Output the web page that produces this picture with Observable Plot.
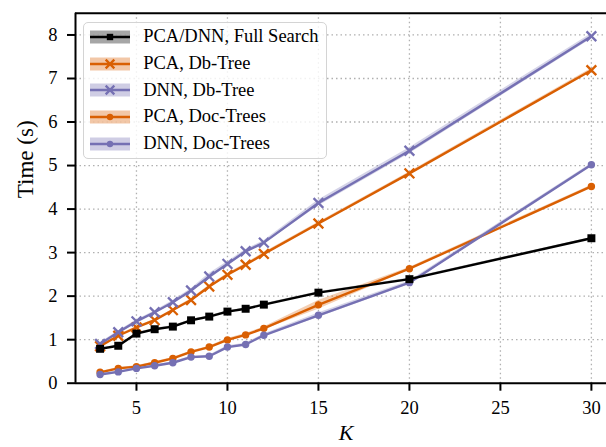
<!DOCTYPE html>
<html>
<head>
<meta charset="utf-8">
<script src="https://cdn.jsdelivr.net/npm/d3@7"></script>
<script src="https://cdn.jsdelivr.net/npm/@observablehq/plot@0.6"></script>
<style>
  html, body { margin: 0; padding: 0; background: #fff; }
  #chart { position: relative; width: 606px; height: 447px; font-family: "Liberation Serif", "Times New Roman", serif; }
  #legend {
    position: absolute; left: 83px; top: 22px; width: 244px; height: 137px;
    box-sizing: border-box; border: 1.5px solid #d4d4d4; border-radius: 5px;
    background: rgba(255,255,255,0.82); padding-top: 0.5px;
  }
  .row { display: flex; align-items: center; height: 26.7px; }
  .row svg { margin-left: 6.2px; flex: none; }
  .row span { margin-left: 13px; font-size: 18.5px; color: #000; white-space: nowrap; }
</style>
</head>
<body>
<div id="chart"></div>
<script>
// Retrieval time against K for each index variant
const K = [3, 4, 5, 6, 7, 8, 9, 10, 11, 12, 15, 20, 30];

const fullSearch = [0.79, 0.86, 1.14, 1.24, 1.30, 1.445, 1.53, 1.645, 1.71, 1.805, 2.08, 2.39, 3.33];
const pcaDbTree  = [0.85, 1.09, 1.28, 1.45, 1.68, 1.91, 2.22, 2.49, 2.72, 2.97, 3.67, 4.82, 7.19];
const dnnDbTree  = [0.90, 1.17, 1.42, 1.63, 1.86, 2.13, 2.45, 2.74, 3.03, 3.23, 4.14, 5.34, 7.97];
const pcaDocTree = [0.25, 0.34, 0.38, 0.47, 0.57, 0.72, 0.83, 0.995, 1.11, 1.26, 1.80, 2.63, 4.52];
const dnnDocTree = [0.20, 0.26, 0.34, 0.40, 0.47, 0.60, 0.62, 0.83, 0.89, 1.10, 1.56, 2.31, 5.02];

// Half-width of the shaded spread around each series (s)
const fullSpread   = [0.02, 0.02, 0.02, 0.02, 0.02, 0.02, 0.02, 0.02, 0.02, 0.02, 0.02, 0.02, 0.02];
const pcaDbSpread  = [0.02, 0.02, 0.02, 0.02, 0.02, 0.03, 0.03, 0.03, 0.03, 0.03, 0.03, 0.03, 0.04];
const dnnDbSpread  = [0.03, 0.03, 0.03, 0.03, 0.04, 0.04, 0.07, 0.05, 0.04, 0.04, 0.07, 0.07, 0.06];
const pcaDocSpread = [0.02, 0.02, 0.02, 0.02, 0.02, 0.02, 0.02, 0.03, 0.03, 0.03, 0.10, 0.03, 0.03];
const dnnDocSpread = [0.02, 0.02, 0.02, 0.02, 0.02, 0.02, 0.02, 0.03, 0.03, 0.03, 0.05, 0.04, 0.03];

const seriesNames = ["PCA/DNN, Full Search", "PCA, Db-Tree", "DNN, Db-Tree", "PCA, Doc-Trees", "DNN, Doc-Trees"];
const seriesColors = ["#000000", "#d95f02", "#7570b3", "#d95f02", "#7570b3"];
const seriesSymbols = ["square", "times", "times", "circle", "circle"];

const xTicks = [5, 10, 15, 20, 25, 30];
const yTicks = [0, 1, 2, 3, 4, 5, 6, 7, 8];
const xDomain = [1.65, 30.83];
const yDomain = [0, 8.5];

const seriesValues = [fullSearch, pcaDbTree, dnnDbTree, pcaDocTree, dnnDocTree];
const seriesSpread = [fullSpread, pcaDbSpread, dnnDbSpread, pcaDocSpread, dnnDocSpread];

const series = seriesNames.map((name, s) => ({
  name,
  color: seriesColors[s],
  symbol: seriesSymbols[s],
  rows: K.map((k, i) => ({
    k,
    v: seriesValues[s][i],
    lo: seriesValues[s][i] - seriesSpread[s][i],
    hi: seriesValues[s][i] + seriesSpread[s][i]
  }))
}));

const markerR = {square: 4.5, times: 4.5, circle: 3.7};
const legendR = {square: 3.6, times: 4.0, circle: 3.2};

function seriesMarks(s) {
  const stroked = s.symbol === "times";
  return [
    Plot.areaY(s.rows, {x: "k", y1: "lo", y2: "hi", fill: s.color, fillOpacity: 0.3}),
    Plot.line(s.rows, {x: "k", y: "v", stroke: s.color, strokeWidth: 2.4}),
    Plot.dot(s.rows, {
      x: "k", y: "v", symbol: () => s.symbol, r: markerR[s.symbol],
      fill: stroked ? "none" : s.color,
      stroke: stroked ? s.color : "none",
      strokeWidth: stroked ? 2.3 : 0
    })
  ];
}

// Full search drawn last so it sits on top at the crossings
const drawOrder = [1, 2, 3, 4, 0];
const gridStyle = {stroke: "#b0b0b0", strokeWidth: 1.3, strokeDasharray: "1.5,3"};

const plot = Plot.plot({
  width: 606,
  height: 447,
  marginLeft: 75,
  marginRight: 0,
  marginTop: 12.7,
  marginBottom: 64.3,
  style: {fontFamily: "'Liberation Serif', 'Times New Roman', serif", fontSize: "18.5px", background: "transparent", color: "#000"},
  x: {domain: xDomain},
  y: {domain: yDomain},
  symbol: {domain: ["square", "times", "circle"], range: ["square", "times", "circle"]},
  marks: [
    Plot.ruleX(xTicks, gridStyle),
    Plot.ruleY(yTicks.filter(d => d > 0), gridStyle),
    ...drawOrder.flatMap(i => seriesMarks(series[i])),
    Plot.ruleY([yDomain[0]], {stroke: "#000", strokeWidth: 2}),
    Plot.ruleY([yDomain[1]], {stroke: "#000", strokeWidth: 2}),
    Plot.ruleX([xDomain[0]], {stroke: "#000", strokeWidth: 2}),
    Plot.axisX(xTicks, {tickSize: 8, tickPadding: 10, strokeWidth: 2, fontSize: 18.5, label: null}),
    Plot.axisY(yTicks, {tickSize: 8, tickPadding: 10, strokeWidth: 2, fontSize: 18.5, label: null}),
    Plot.text(["K"], {frameAnchor: "bottom", dx: 5, dy: 50, fontSize: 22, fontStyle: "italic", lineAnchor: "middle"}),
    Plot.text(["Time (s)"], {frameAnchor: "left", dx: -49.7, rotate: -90, fontSize: 23, lineAnchor: "middle"})
  ]
});

const chart = document.getElementById("chart");
chart.appendChild(plot);

// Legend box drawn over the plot area
const legend = document.createElement("div");
legend.id = "legend";
series.forEach(s => {
  const row = document.createElement("div");
  row.className = "row";
  const sw = d3.create("svg").attr("width", 40).attr("height", 26);
  sw.append("rect").attr("x", 0).attr("y", 6.5).attr("width", 40).attr("height", 13)
    .attr("fill", s.color).attr("fill-opacity", 0.35);
  sw.append("line").attr("x1", 0).attr("x2", 40).attr("y1", 13).attr("y2", 13)
    .attr("stroke", s.color).attr("stroke-width", 2.4);
  const sym = {square: d3.symbolSquare, times: d3.symbolTimes, circle: d3.symbolCircle}[s.symbol];
  const r = legendR[s.symbol];
  const path = sw.append("path").attr("transform", "translate(20,13)")
    .attr("d", d3.symbol(sym, Math.PI * r * r)());
  if (s.symbol === "times") path.attr("fill", "none").attr("stroke", s.color).attr("stroke-width", 2.3);
  else path.attr("fill", s.color);
  row.appendChild(sw.node());
  const label = document.createElement("span");
  label.textContent = s.name;
  row.appendChild(label);
  legend.appendChild(row);
});
chart.appendChild(legend);
</script>
</body>
</html>
